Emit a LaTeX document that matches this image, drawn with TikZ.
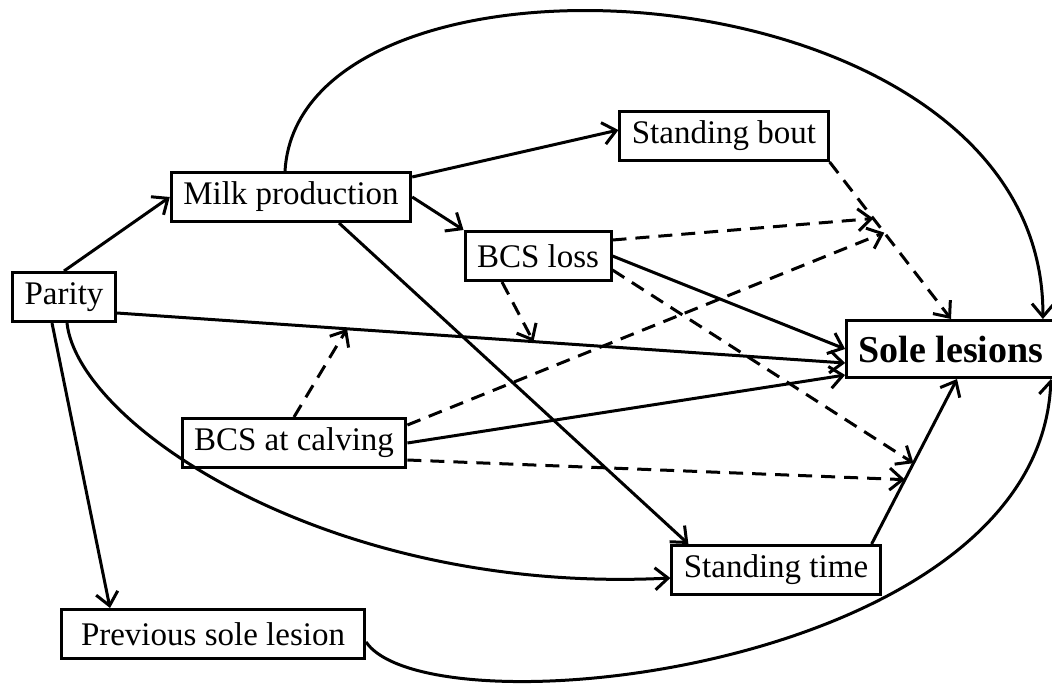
\documentclass[tikz,border=0pt]{standalone}
\usepackage{fontspec}
\setmainfont{Liberation Serif}
\usetikzlibrary{positioning,arrows.meta}

\begin{document}
\begin{tikzpicture}[x=0.5pt,y=-0.5pt,on grid,line width=1.5pt,
    >={Straight Barb[length=6.5pt,width=11pt]}]
  \tikzstyle{var}=[draw,rectangle,line width=1.5pt,inner xsep=6pt,minimum height=24.5pt,font=\fontsize{16.5}{19}\selectfont]
  \tikzstyle{mod}=[dash pattern=on 7pt off 4.5pt]
  \useasboundingbox (0,0) rectangle (1052,690);
  \node[var] (parity) at (64,297) {Parity};
  \node[var] (milk) [above right=50pt and 113.5pt of parity] {Milk production};
  \node[var] (bout) [above right=30.5pt and 216.5pt of milk] {Standing bout};
  \node[var] (loss) [below right=29.5pt and 123.5pt of milk] {BCS loss};
  \node[var,minimum height=28.5pt,font=\fontsize{19}{22}\selectfont\bfseries] (sole) [below right=46.5pt and 206.5pt of loss] {Sole lesions};
  \node[var] (calving) [below right=73pt and 115pt of parity] {BCS at calving};
  \node[var] (stime) [below right=63.5pt and 241pt of calving] {Standing time};
  \node[var,minimum width=151.5pt] (prev) [below right=168.5pt and 74.5pt of parity] {Previous sole lesion};

  % direct paths (with points for the moderators)
  \draw[->] ([yshift=-8pt]parity.east) -- coordinate[pos=0.316] (on_ps1) coordinate[pos=0.572] (on_ps2) ([yshift=-7pt]sole.west);
  \draw[->,mod] (bout.south east) -- coordinate[pos=0.36] (on_bs1) coordinate[pos=0.45] (on_bs2) (sole.north);
  \draw[->] ([xshift=-5pt]stime.north east) -- coordinate[pos=0.39] (on_ts1) coordinate[pos=0.49] (on_ts2) ([xshift=3pt]sole.south);

  \path[->]
    (parity.north) edge (milk.west)
    ([xshift=-6pt]parity.south) edge ([xshift=25pt]prev.north west)
    ([yshift=-3pt]milk.north east) edge ([yshift=3pt]bout.west)
    (milk.east) edge (loss.north west)
    ([xshift=24pt]milk.south) edge ([xshift=9pt]stime.north west)
    (loss.east) edge (sole.west)
    (calving.east) edge ([yshift=-13pt]sole.west);

  % moderators
  \path[->,mod]
    ([yshift=8pt]loss.east) edge (on_bs1)
    ([yshift=-7pt]loss.east) edge (on_ts2)
    ([xshift=-18pt]loss.south) edge (on_ps2)
    (calving.north) edge (on_ps1)
    ([yshift=9pt]calving.east) edge (on_bs2)
    ([yshift=-8.5pt]calving.east) edge (on_ts1);

  % curved paths
  \draw[->] ([xshift=-3pt]milk.north) .. controls (300,-80) and (1045,-40) .. ([xshift=-7pt]sole.north east);
  \draw[->] ([xshift=1.5pt]parity.south) .. controls (78,425) and (330,595) .. ([yshift=-4pt]stime.west);
  \draw[->] ([yshift=-4pt]prev.east) .. controls (430,735) and (1040,670) .. ([xshift=-3pt]sole.south east);
\end{tikzpicture}
\end{document}
